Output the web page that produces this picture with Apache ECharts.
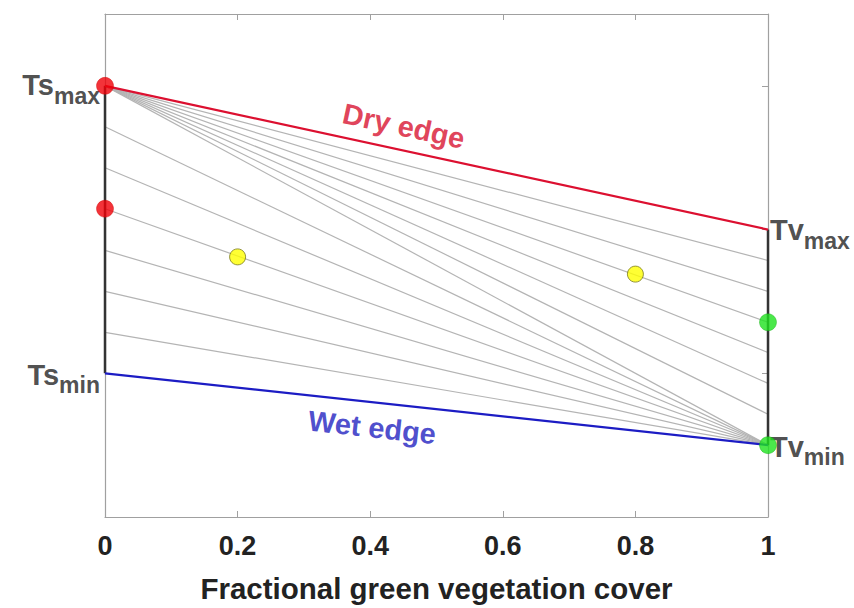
<!DOCTYPE html>
<html>
<head>
<meta charset="utf-8">
<script src="https://cdn.jsdelivr.net/npm/echarts@6/dist/echarts.min.js"></script>
<style>html,body{margin:0;padding:0;background:#fff;}#c{width:854px;height:608px;}</style>
</head>
<body>
<div id="c"></div>
<script>
// ---- data ----
const xEnds = [0, 1];
const dryEdge = [6, 4];          // Ts_max (x=0), Tv_max (x=1)
const wetEdge = [2, 1];          // Ts_min (x=0), Tv_min (x=1)
const tsLevels = [5.43, 4.86, 4.29, 3.71, 3.14, 2.57]; // left ends of isolines converging at Tv_min
const tvLevels = [3.57, 3.14, 2.71, 2.29, 1.86, 1.43]; // right ends of isolines starting at Ts_max
const redX = [0, 0], redY = [6, 4.29];
const greenX = [1, 1], greenY = [2.71, 1];
const yellowX = [0.2, 0.8], yellowY = [3.62, 3.38];
const xTickValues = [0, 0.2, 0.4, 0.6, 0.8, 1];
const xTitle = 'Fractional green vegetation cover';

const FONT = 'Liberation Sans, Arial, Helvetica, sans-serif';
const series = [];

// gray isolines
tsLevels.forEach(v => series.push({
  type: 'line', data: [[xEnds[0], v], [xEnds[1], wetEdge[1]]], symbol: 'none', silent: true,
  lineStyle: {color: '#b4b4b4', width: 1.2}, z: 1, clip: false
}));
tvLevels.forEach(v => series.push({
  type: 'line', data: [[xEnds[0], dryEdge[0]], [xEnds[1], v]], symbol: 'none', silent: true,
  lineStyle: {color: '#b4b4b4', width: 1.2}, z: 1, clip: false
}));
series.push({
  type: 'line', data: [[xEnds[0], dryEdge[0]], [xEnds[1], wetEdge[1]]], symbol: 'none',
  lineStyle: {color: '#b4b4b4', width: 1.2}, z: 1, clip: false
});

// vertical black segments
series.push({type: 'line', data: [[xEnds[0], dryEdge[0]], [xEnds[0], wetEdge[0]]], symbol: 'none',
  lineStyle: {color: '#333', width: 2.5}, z: 3, clip: false});
series.push({type: 'line', data: [[xEnds[1], dryEdge[1]], [xEnds[1], wetEdge[1]]], symbol: 'none',
  lineStyle: {color: '#333', width: 2.5}, z: 3, clip: false});

// dry & wet edges
series.push({type: 'line', data: xEnds.map((x, i) => [x, dryEdge[i]]), symbol: 'none',
  lineStyle: {color: '#dc1030', width: 2.2}, z: 4, clip: false});
series.push({type: 'line', data: xEnds.map((x, i) => [x, wetEdge[i]]), symbol: 'none',
  lineStyle: {color: '#1c1cc4', width: 2.2}, z: 4, clip: false});

// edge labels (anchored on the edges)
const at = (edge, f) => edge[0] + (edge[1] - edge[0]) * f;
series.push({type: 'scatter', symbolSize: 0, z: 6, clip: false,
  data: [[0.443, at(dryEdge, 0.443)]],
  label: {show: true, formatter: 'Dry edge', position: 'inside', offset: [0, -24], rotate: -12.2,
    fontFamily: FONT, fontWeight: 'bold', fontSize: 29, color: '#d8112f'}});
series.push({type: 'scatter', symbolSize: 0, z: 6, clip: false,
  data: [[0.407, at(wetEdge, 0.407)]],
  label: {show: true, formatter: 'Wet edge', position: 'inside', offset: [0, 25], rotate: -6.2,
    fontFamily: FONT, fontWeight: 'bold', fontSize: 29, color: '#1f1fc0'}});

// endpoint labels
const rich = {
  a: {fontFamily: FONT, fontWeight: 'bold', fontSize: 29, color: '#222', verticalAlign: 'top', lineHeight: 28},
  b: {fontFamily: FONT, fontWeight: 'bold', fontSize: 23, color: '#222', lineHeight: 20, padding: [22, 0, 0, 0]}
};
function endLabel(x, y, big, small, pos, off) {
  series.push({type: 'scatter', symbolSize: 0, z: 7, clip: false, data: [[x, y]],
    label: {show: true, position: pos, distance: 5, offset: off,
      formatter: '{a|' + big + '}{b|' + small + '}', rich: rich}});
}
endLabel(xEnds[0], dryEdge[0], 'Ts', 'max', 'left', [0, -1]);
endLabel(xEnds[0], wetEdge[0], 'Ts', 'min', 'left', [0, 1]);
endLabel(xEnds[1], dryEdge[1], 'Tv', 'max', 'right', [-3, 0]);
endLabel(xEnds[1], wetEdge[1], 'Tv', 'min', 'right', [-3, 1]);

// dots
series.push({type: 'scatter', data: redX.map((x, i) => [x, redY[i]]), symbolSize: 17, z: 8, clip: false,
  itemStyle: {color: '#f00008', borderColor: '#c00', borderWidth: 0.5}});
series.push({type: 'scatter', data: greenX.map((x, i) => [x, greenY[i]]), symbolSize: 17, z: 8, clip: false,
  itemStyle: {color: '#1ee21e', borderColor: '#1a1', borderWidth: 0.5}});
series.push({type: 'scatter', data: yellowX.map((x, i) => [x, yellowY[i]]), symbolSize: 16, z: 8, clip: false,
  itemStyle: {color: '#ffff00', borderColor: '#7a7a20', borderWidth: 1}});

const axisLine = {show: true, onZero: false, lineStyle: {color: '#a0a0a0', width: 1.2}};
const axisTick = {show: true, inside: true, length: 6, lineStyle: {color: '#a0a0a0'}};

const chart = echarts.init(document.getElementById('c'), null, {renderer: 'svg'});
chart.setOption({
  animation: false,
  backgroundColor: '#fff',
  grid: {left: 105, right: 86, top: 14, bottom: 89, containLabel: false},
  xAxis: [
    {type: 'value', min: xTickValues[0], max: xTickValues[xTickValues.length - 1],
      interval: xTickValues[1] - xTickValues[0], position: 'bottom',
      axisLine: axisLine, axisTick: axisTick, splitLine: {show: false},
      axisLabel: {fontFamily: FONT, fontWeight: 'bold', fontSize: 27, color: '#222', margin: 15},
      name: xTitle, nameLocation: 'middle', nameGap: 56,
      nameTextStyle: {fontFamily: FONT, fontWeight: 'bold', fontSize: 29.5, color: '#222'}},
    {type: 'value', min: 0, max: 1, interval: 0.2, position: 'top',
      axisLine: axisLine, axisTick: axisTick, axisLabel: {show: false}, splitLine: {show: false}}
  ],
  yAxis: [
    {type: 'value', min: 0, max: 7, interval: 2, position: 'left',
      axisLine: axisLine, axisTick: {show: false}, axisLabel: {show: false}, splitLine: {show: false}},
    {type: 'value', min: 0, max: 7, interval: 2, position: 'right',
      axisLine: axisLine, axisTick: axisTick, axisLabel: {show: false}, splitLine: {show: false}}
  ],
  series: series
});
</script>
</body>
</html>
